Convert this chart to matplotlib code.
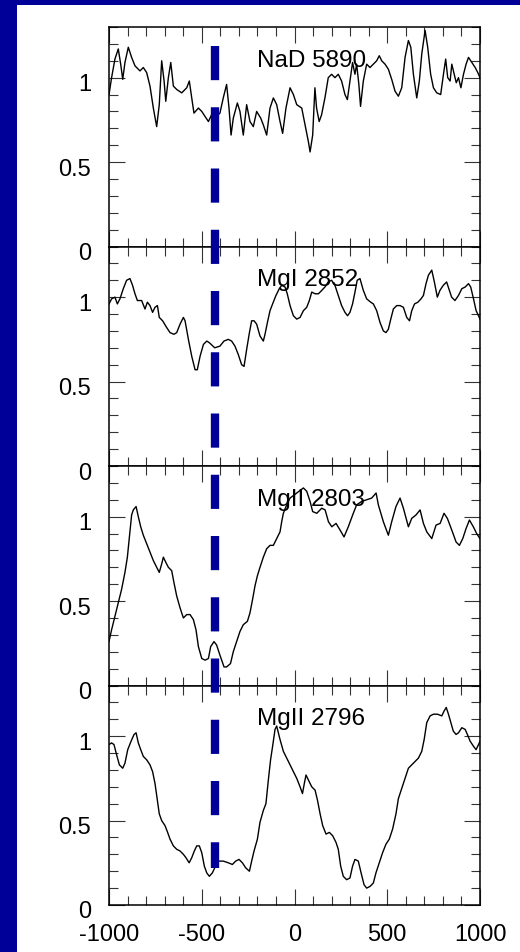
import matplotlib
matplotlib.use("Agg")
import matplotlib.pyplot as plt
import matplotlib.transforms as mtransforms
from matplotlib.lines import Line2D
from matplotlib.patches import Rectangle
from matplotlib.ticker import MultipleLocator

plt.rcParams['font.family'] = ['Liberation Sans', 'DejaVu Sans']
plt.rcParams['axes.unicode_minus'] = False

navy = '#000099'

# velocity (km/s) and normalised flux
nad_v = [-1000, -986, -968, -950, -937, -926, -914, -896, -878, -860,
         -833, -815, -797, -779, -761, -743, -729, -716, -703, -694,
         -680, -667, -653, -635, -608, -581, -567, -554, -542, -518,
         -500, -482, -464, -447, -430, -402, -384, -366, -353, -342,
         -330, -308, -294, -276, -258, -240, -222, -204, -182, -168,
         -150, -132, -114, -96, -78, -64, -46, -24, -6, 12,
         39, 57, 75, 84, 98, 110, 119, 133, 146, 164,
         182, 200, 218, 236, 254, 272, 285, 299, 313, 326,
         335, 347, 356, 371, 389, 407, 425, 443, 457, 470,
         488, 506, 524, 542, 560, 578, 596, 614, 627, 641,
         659, 673, 686, 704, 718, 734, 749, 767, 788, 803,
         815, 826, 839, 848, 861, 872, 884, 897, 911, 925,
         938, 956, 974, 988, 1000]
nad_f = [0.90, 1.00, 1.11, 1.17, 1.08, 0.99, 1.09, 1.18, 1.12, 1.07,
         1.04, 1.06, 1.03, 0.95, 0.82, 0.71, 0.84, 1.10, 0.98, 0.86,
         1.00, 1.09, 0.95, 0.93, 0.91, 0.94, 0.98, 0.88, 0.79, 0.82,
         0.80, 0.77, 0.74, 0.78, 0.76, 0.79, 0.88, 0.96, 0.82, 0.66,
         0.76, 0.85, 0.80, 0.66, 0.84, 0.74, 0.71, 0.80, 0.76, 0.72,
         0.66, 0.82, 0.88, 0.84, 0.74, 0.67, 0.82, 0.94, 0.90, 0.84,
         0.82, 0.72, 0.62, 0.56, 0.66, 0.94, 0.82, 0.74, 0.78, 0.88,
         1.00, 1.02, 1.00, 1.02, 0.98, 0.90, 0.87, 0.98, 1.09, 1.02,
         1.08, 0.96, 0.83, 0.98, 1.08, 1.06, 1.08, 1.10, 1.13, 1.10,
         1.08, 1.05, 0.99, 0.92, 0.89, 0.94, 1.12, 1.22, 1.18, 1.02,
         0.88, 0.98, 1.14, 1.28, 1.18, 1.02, 0.94, 0.91, 0.90, 1.02,
         1.11, 1.00, 0.98, 1.08, 1.02, 0.97, 1.00, 0.94, 1.02, 1.08,
         1.12, 1.09, 1.06, 1.03, 1.00]

mg1_v = [-1000, -986, -968, -955, -941, -923, -905, -887, -873, -860,
         -847, -824, -806, -793, -779, -765, -752, -739, -729, -711,
         -689, -671, -650, -635, -617, -599, -590, -572, -554, -536,
         -524, -509, -491, -473, -459, -430, -402, -380, -357, -339,
         -321, -303, -285, -272, -258, -243, -231, -218, -204, -186,
         -168, -159, -146, -132, -118, -100, -82, -69, -51, -39,
         -24, -6, 12, 30, 48, 66, 80, 93, 111, 129,
         147, 164, 182, 200, 218, 236, 254, 272, 286, 299,
         313, 326, 338, 353, 371, 389, 411, 425, 443, 461,
         479, 493, 506, 519, 533, 551, 569, 587, 605, 620,
         632, 647, 665, 682, 695, 709, 722, 740, 754, 770,
         784, 802, 820, 835, 847, 865, 884, 902, 920, 938,
         950, 965, 979, 992, 1000]
mg1_f = [0.96, 0.99, 1.00, 0.96, 0.99, 1.05, 1.10, 1.11, 1.07, 1.02,
         0.98, 0.98, 0.93, 0.97, 0.95, 0.91, 0.94, 0.95, 0.88, 0.86,
         0.82, 0.79, 0.78, 0.79, 0.84, 0.88, 0.86, 0.75, 0.65, 0.57,
         0.57, 0.65, 0.72, 0.74, 0.73, 0.70, 0.71, 0.74, 0.75, 0.74,
         0.71, 0.66, 0.60, 0.59, 0.69, 0.79, 0.86, 0.86, 0.84, 0.77,
         0.74, 0.78, 0.85, 0.92, 0.96, 1.01, 1.05, 1.07, 1.06, 1.02,
         0.95, 0.89, 0.87, 0.88, 0.92, 0.94, 0.98, 1.03, 1.02, 1.02,
         1.04, 1.06, 1.09, 1.10, 1.07, 1.01, 0.95, 0.91, 0.89, 0.91,
         0.96, 1.03, 1.10, 1.11, 1.04, 0.99, 0.97, 0.96, 0.92, 0.85,
         0.80, 0.79, 0.81, 0.87, 0.93, 0.95, 0.95, 0.94, 0.88, 0.86,
         0.92, 0.96, 0.97, 0.99, 1.01, 1.08, 1.13, 1.16, 1.09, 1.00,
         1.04, 1.07, 1.09, 1.04, 1.00, 0.98, 1.01, 1.05, 1.06, 1.08,
         1.06, 0.99, 0.92, 0.89, 0.87]

mg2803_v = [-1000, -986, -968, -950, -932, -914, -901, -890, -878, -869,
            -854, -842, -829, -815, -797, -779, -761, -743, -729, -716,
            -707, -694, -680, -662, -650, -635, -617, -599, -581, -563,
            -545, -531, -518, -500, -482, -464, -452, -434, -420, -402,
            -380, -366, -345, -330, -312, -294, -276, -254, -240, -226,
            -213, -200, -186, -168, -150, -132, -114, -96, -78, -69,
            -60, -46, -24, 12, 48, 66, 84, 98, 120, 147,
            165, 183, 201, 224, 246, 267, 290, 317, 335, 362,
            389, 416, 440, 452, 479, 506, 524, 547, 569, 587,
            614, 632, 655, 677, 695, 713, 740, 763, 785, 806,
            824, 848, 871, 889, 907, 925, 943, 964, 982, 1000]
mg2803_f = [0.26, 0.33, 0.41, 0.49, 0.57, 0.67, 0.76, 0.88, 1.01, 1.04,
            1.06, 1.00, 0.94, 0.89, 0.84, 0.79, 0.74, 0.70, 0.67, 0.72,
            0.76, 0.73, 0.70, 0.68, 0.61, 0.53, 0.46, 0.40, 0.42, 0.42,
            0.39, 0.33, 0.23, 0.16, 0.15, 0.16, 0.23, 0.26, 0.24, 0.18,
            0.11, 0.11, 0.13, 0.20, 0.26, 0.32, 0.36, 0.38, 0.43, 0.51,
            0.59, 0.65, 0.70, 0.76, 0.81, 0.83, 0.83, 0.87, 0.91, 0.97,
            1.02, 1.06, 1.11, 1.14, 1.17, 1.15, 1.09, 1.03, 1.02, 1.05,
            1.04, 0.97, 0.94, 0.96, 0.92, 0.88, 0.94, 1.02, 1.07, 1.09,
            1.10, 1.11, 1.14, 1.07, 0.97, 0.89, 0.97, 1.06, 1.11, 1.05,
            0.94, 0.99, 1.01, 1.04, 0.96, 0.91, 0.87, 0.95, 0.96, 1.02,
            0.99, 0.92, 0.85, 0.83, 0.87, 0.93, 0.98, 0.94, 0.90, 0.87]

mg2796_v = [-1000, -986, -973, -959, -944, -926, -914, -899, -881, -865,
            -854, -842, -829, -815, -797, -779, -765, -752, -739, -729,
            -716, -698, -684, -671, -653, -635, -617, -599, -585, -568,
            -554, -540, -527, -513, -500, -486, -473, -459, -443, -430,
            -411, -384, -357, -335, -317, -299, -281, -263, -243, -231,
            -218, -200, -186, -168, -154, -141, -129, -118, -105, -96,
            -78, -60, -42, -24, -6, 12, 30, 43, 53, 62,
            75, 93, 111, 124, 138, 152, 170, 188, 206, 224,
            236, 249, 263, 281, 299, 313, 326, 344, 359, 375,
            389, 407, 425, 439, 457, 475, 493, 511, 529, 547,
            560, 578, 596, 614, 632, 650, 668, 686, 699, 713,
            731, 749, 771, 794, 807, 818, 830, 843, 856, 871,
            884, 902, 920, 932, 947, 965, 979, 992, 1000]
mg2796_f = [0.95, 0.96, 0.95, 0.89, 0.83, 0.81, 0.84, 0.92, 0.97, 1.01,
            1.02, 0.96, 0.92, 0.88, 0.86, 0.83, 0.79, 0.72, 0.62, 0.54,
            0.50, 0.47, 0.43, 0.39, 0.35, 0.33, 0.32, 0.30, 0.28, 0.25,
            0.28, 0.32, 0.35, 0.35, 0.31, 0.23, 0.19, 0.17, 0.19, 0.22,
            0.26, 0.26, 0.25, 0.24, 0.26, 0.27, 0.25, 0.22, 0.20, 0.26,
            0.32, 0.39, 0.49, 0.56, 0.60, 0.74, 0.86, 0.94, 1.04, 1.06,
            0.98, 0.91, 0.87, 0.83, 0.79, 0.75, 0.70, 0.66, 0.72, 0.77,
            0.74, 0.70, 0.68, 0.62, 0.54, 0.47, 0.42, 0.43, 0.41, 0.37,
            0.33, 0.23, 0.17, 0.15, 0.16, 0.23, 0.27, 0.26, 0.19, 0.12,
            0.10, 0.11, 0.13, 0.19, 0.25, 0.31, 0.36, 0.39, 0.45, 0.54,
            0.63, 0.69, 0.75, 0.81, 0.83, 0.85, 0.87, 0.91, 0.98, 1.08,
            1.12, 1.13, 1.13, 1.12, 1.15, 1.17, 1.13, 1.08, 1.03, 1.01,
            1.02, 1.05, 1.04, 1.01, 0.97, 0.94, 0.92, 0.95, 0.97]

labels = ['NaD 5890', 'MgI 2852', 'MgII 2803', 'MgII 2796']
mark_v = -430  # dashed marker velocity

fig = plt.figure(figsize=(5.2, 9.52), dpi=100, facecolor=navy)
fig.add_artist(Rectangle((17 / 520, 0), 1, 1 - 5 / 952, transform=fig.transFigure,
                         facecolor='white', edgecolor='none', zorder=-1))
axes = fig.subplots(4, 1, sharex=True)
fig.subplots_adjust(left=109 / 520, right=480 / 520, top=1 - 27 / 952,
                    bottom=1 - 905 / 952, hspace=0)

data = [(nad_v, nad_f), (mg1_v, mg1_f), (mg2803_v, mg2803_f), (mg2796_v, mg2796_f)]
shift = mtransforms.ScaledTranslation(0, -0.05, fig.dpi_scale_trans)

for ax, (v, f), lab in zip(axes, data, labels):
    ax.plot(v, f, color='black', lw=1.0)
    ax.set_xlim(-1000, 1000)
    ax.set_ylim(0, 1.3)
    ax.xaxis.set_major_locator(MultipleLocator(500))
    ax.xaxis.set_minor_locator(MultipleLocator(100))
    ax.set_yticks([0, 0.5, 1])
    ax.set_yticklabels(['0', '0.5', '1'])
    ax.yaxis.set_minor_locator(MultipleLocator(0.1))
    ax.tick_params(which='both', direction='in', top=True, right=True,
                   width=0.8, color='#333333', labelsize=17)
    ax.tick_params(which='major', length=11.5)
    ax.tick_params(which='minor', length=6.5)
    ax.tick_params(axis='y', pad=13)
    ax.tick_params(axis='x', pad=14)
    for sp in ax.spines.values():
        sp.set_linewidth(1.1)
    for t in ax.get_yticklabels():
        t.set_transform(t.get_transform() + shift)
    ax.text(-200, 1.1, lab, fontsize=17.5, ha='left', va='center')

trans = mtransforms.blended_transform_factory(axes[-1].transData, fig.transFigure)
dash = Line2D([mark_v, mark_v], [1 - 46 / 952, 1 - 868 / 952], transform=trans,
              color=navy, lw=6, linestyle=(0, (4.1, 3.25)), dash_capstyle='butt')
fig.add_artist(dash)

fig.savefig('out.png', dpi=100, facecolor=navy)
